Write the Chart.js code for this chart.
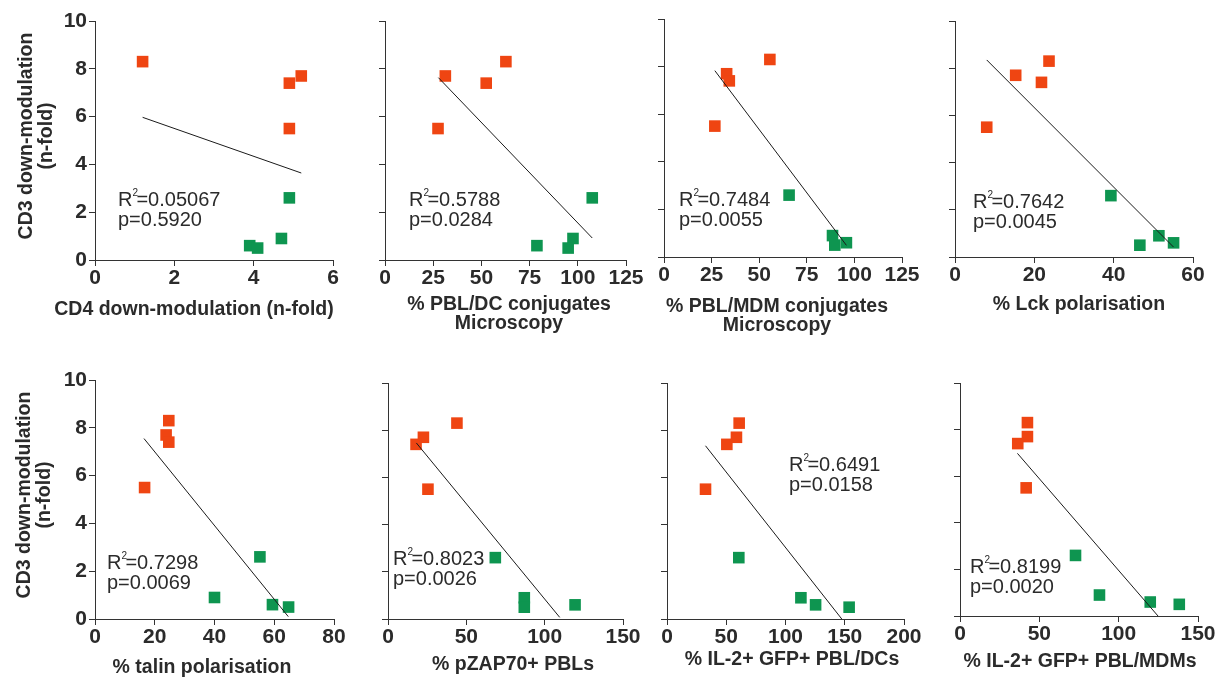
<!DOCTYPE html>
<html>
<head>
<meta charset="utf-8">
<script src="https://cdn.jsdelivr.net/npm/chart.js@4.4.0/dist/chart.umd.min.js"></script>
<style>
html, body { margin: 0; padding: 0; background: #fff; }
#wrap { position: relative; width: 1226px; height: 678px; overflow: hidden; }
#wrap canvas { position: absolute; left: 0; top: 0; }
</style>
</head>
<body>
<div id="wrap"></div>
<script>
// CD3 down-modulation (n-fold) - same 8 samples in every panel
var cd3Red = [8.3, 7.7, 7.4, 5.5];
var cd3Green = [2.6, 0.9, 0.6, 0.5];

// x values per panel (same order as cd3Red / cd3Green)
var cd4Red = [1.2, 5.2, 4.9, 4.9];
var cd4Green = [4.9, 4.7, 3.9, 4.1];
var dcConjRed = [62.7, 31.3, 52.5, 27.5];
var dcConjGreen = [107.5, 97.5, 78.8, 95.0];
var mdmConjRed = [55.6, 32.9, 34.3, 26.7];
var mdmConjGreen = [65.7, 88.5, 95.8, 89.7];
var lckRed = [23.7, 15.3, 21.8, 8.0];
var lckGreen = [39.3, 51.4, 55.1, 46.6];
var talinRed = [24.7, 23.8, 24.7, 16.6];
var talinGreen = [55.2, 40.0, 59.4, 64.8];
var zapRed = [44.0, 22.6, 17.9, 25.5];
var zapGreen = [68.5, 87.0, 119.4, 87.0];
var il2DcRed = [60.9, 58.6, 50.5, 32.5];
var il2DcGreen = [60.6, 113.0, 125.4, 153.7];
var il2MdmRed = [42.5, 42.5, 36.4, 41.7];
var il2MdmGreen = [72.8, 87.9, 119.9, 138.2];

// regression line end points
var cd4FitX = [1.2, 5.2], cd4FitY = [5.97, 3.64];
var dcConjFitX = [27.7, 107.5], dcConjFitY = [7.63, 0.92];
var mdmConjFitX = [26.7, 95.8], mdmConjFitY = [7.83, 0.49];
var lckFitX = [8.0, 55.1], lckFitY = [8.35, 0.42];
var talinFitX = [16.4, 64.7], talinFitY = [7.55, 0.10];
var zapFitX = [18.1, 109.6], zapFitY = [7.46, 0.07];
var il2DcFitX = [32.5, 147.5], il2DcFitY = [7.34, 0.0];
var il2MdmFitX = [36.2, 124.8], il2MdmFitY = [6.98, 0.0];

var r2Values = ['0.05067', '0.5788', '0.7484', '0.7642', '0.7298', '0.8023', '0.6491', '0.8199'];
var pValues = ['0.5920', '0.0284', '0.0055', '0.0045', '0.0069', '0.0026', '0.0158', '0.0020'];
var xMaxes = [6, 125, 125, 60, 80, 150, 200, 150];
var xSteps = [2, 25, 25, 20, 20, 50, 50, 50];
var xTitles = [
    ['CD4 down-modulation (n-fold)'],
    ['% PBL/DC conjugates', 'Microscopy'],
    ['% PBL/MDM conjugates', 'Microscopy'],
    ['% Lck polarisation'],
    ['% talin polarisation'],
    ['% pZAP70+ PBLs'],
    ['% IL-2+ GFP+ PBL/DCs'],
    ['% IL-2+ GFP+ PBL/MDMs']
];
var yTitle = ['CD3 down-modulation', '(n-fold)'];

var RED = '#EF4512';
var GREEN = '#0E9550';
var AXIS = '#333333';
var TEXT = '#2b2b2b';
var FONT = "'Liberation Sans', Arial, Helvetica, sans-serif";

// layout: plot area [left, top, right, bottom], title centre, stats offset
var panels = [
    {red: cd4Red, green: cd4Green, fx: cd4FitX, fy: cd4FitY, area: [95, 21, 333, 260], title: [194, 310], yLabels: true, yTitleAt: [27, 136], stat: [23, 179]},
    {red: dcConjRed, green: dcConjGreen, fx: dcConjFitX, fy: dcConjFitY, area: [385, 21, 626, 260], title: [509, 305], stat: [24, 179]},
    {red: mdmConjRed, green: mdmConjGreen, fx: mdmConjFitX, fy: mdmConjFitY, area: [664, 19, 902, 257], title: [777, 307], stat: [15, 181]},
    {red: lckRed, green: lckGreen, fx: lckFitX, fy: lckFitY, area: [955, 21, 1193, 257], title: [1079, 305], stat: [18, 181]},
    {red: talinRed, green: talinGreen, fx: talinFitX, fy: talinFitY, area: [95, 380, 334, 619], title: [202, 668], yLabels: true, yTitleAt: [25, 495], stat: [12, 183]},
    {red: zapRed, green: zapGreen, fx: zapFitX, fy: zapFitY, area: [388, 383, 623, 619], title: [513, 665], stat: [5, 176]},
    {red: il2DcRed, green: il2DcGreen, fx: il2DcFitX, fy: il2DcFitY, area: [667, 383, 904, 619], title: [792, 660], stat: [122, 82]},
    {red: il2MdmRed, green: il2MdmGreen, fx: il2MdmFitX, fy: il2MdmFitY, area: [960, 383, 1198, 616], title: [1080, 662], stat: [10, 184]}
];

function toPoints(xs, ys) {
    var pts = [];
    for (var i = 0; i < xs.length; i++) {
        pts.push({x: xs[i], y: ys[i]});
    }
    return pts;
}

function textPlugin(idx) {
    var p = panels[idx];
    return {
        id: 'panelText' + idx,
        afterDraw: function (chart) {
            var ctx = chart.ctx;
            var area = chart.chartArea;
            ctx.save();
            ctx.fillStyle = TEXT;
            ctx.textBaseline = 'middle';

            // x axis title
            ctx.font = 'bold 19.5px ' + FONT;
            ctx.textAlign = 'center';
            for (var i = 0; i < xTitles[idx].length; i++) {
                ctx.fillText(xTitles[idx][i], p.title[0], p.title[1] + i * 19);
            }

            // y axis title (only first column)
            if (p.yTitleAt) {
                ctx.font = 'bold 19.5px ' + FONT;
                for (var j = 0; j < yTitle.length; j++) {
                    ctx.save();
                    ctx.translate(p.yTitleAt[0] + j * 20, p.yTitleAt[1]);
                    ctx.rotate(-Math.PI / 2);
                    ctx.fillText(yTitle[j], 0, 0);
                    ctx.restore();
                }
            }

            // R2 / p annotation
            var sx = area.left + p.stat[0];
            var sy = area.top + p.stat[1];
            ctx.textAlign = 'left';
            ctx.font = '20px ' + FONT;
            ctx.fillText('R', sx, sy);
            var rw = ctx.measureText('R').width;
            ctx.font = '10px ' + FONT;
            ctx.fillText('2', sx + rw, sy - 7);
            ctx.font = '20px ' + FONT;
            ctx.fillText('=' + r2Values[idx], sx + rw + 4, sy);
            ctx.fillText('p=' + pValues[idx], sx, sy + 20);
            ctx.restore();
        }
    };
}

function makePanel(idx) {
    var p = panels[idx];
    var canvas = document.createElement('canvas');
    canvas.width = 1226;
    canvas.height = 678;
    document.getElementById('wrap').appendChild(canvas);

    var yW = p.yLabels ? 95 : 10;
    var xH = 40;
    var a = p.area;

    return new Chart(canvas.getContext('2d'), {
        type: 'scatter',
        data: {
            datasets: [{
                data: toPoints(p.fx, p.fy),
                showLine: true,
                borderColor: '#1a1a1a',
                borderWidth: 1,
                pointRadius: 0
            }, {
                data: toPoints(p.red, cd3Red),
                pointStyle: 'rect',
                pointRadius: 8.2,
                pointBorderWidth: 0,
                backgroundColor: RED,
                borderColor: RED
            }, {
                data: toPoints(p.green, cd3Green),
                pointStyle: 'rect',
                pointRadius: 8.2,
                pointBorderWidth: 0,
                backgroundColor: GREEN,
                borderColor: GREEN
            }]
        },
        options: {
            responsive: false,
            animation: false,
            events: [],
            clip: false,
            layout: {
                padding: {left: a[0] - yW, top: a[1], right: 1226 - a[2], bottom: 678 - a[3] - xH}
            },
            plugins: {
                legend: {display: false},
                tooltip: {enabled: false}
            },
            scales: {
                x: {
                    type: 'linear',
                    min: 0,
                    max: xMaxes[idx],
                    ticks: {
                        stepSize: xSteps[idx],
                        maxRotation: 0,
                        autoSkip: false,
                        padding: 2,
                        color: TEXT,
                        font: {family: FONT, size: 21, weight: 'bold', lineHeight: 1}
                    },
                    grid: {drawOnChartArea: false, tickLength: 6, color: AXIS},
                    border: {color: AXIS, width: 1},
                    afterFit: function (s) { s.height = xH; }
                },
                y: {
                    type: 'linear',
                    min: 0,
                    max: 10,
                    ticks: {
                        display: !!p.yLabels,
                        stepSize: 2,
                        padding: 2,
                        color: TEXT,
                        font: {family: FONT, size: 21, weight: 'bold', lineHeight: 1}
                    },
                    grid: {drawOnChartArea: false, tickLength: 6, color: AXIS},
                    border: {color: AXIS, width: 1},
                    afterFit: function (s) { s.width = yW; }
                }
            }
        },
        plugins: [textPlugin(idx)]
    });
}

for (var k = 0; k < panels.length; k++) {
    makePanel(k);
}
</script>
</body>
</html>
